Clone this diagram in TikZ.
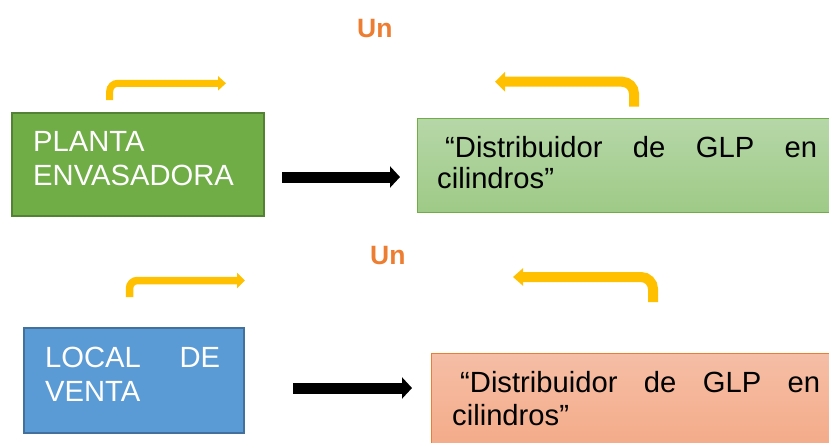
\documentclass[tikz,border=0pt]{standalone}
\usepackage{fontspec}
\setmainfont{Liberation Sans}
\usetikzlibrary{arrows.meta}
\definecolor{ygold}{HTML}{FFC000}
\definecolor{uorange}{HTML}{ED7D31}
\tikzset{
  box/.style={rectangle, inner sep=0pt, anchor=north west},
  darkgreen/.style={box, fill={rgb,255:red,112;green,173;blue,71}, draw={rgb,255:red,84;green,130;blue,53}, line width=1.8pt},
  lightgreen/.style={box, top color={rgb,255:red,182;green,215;blue,168}, bottom color={rgb,255:red,158;green,202;blue,134}, draw={rgb,255:red,112;green,173;blue,71}, line width=1pt},
  bluebox/.style={box, fill={rgb,255:red,91;green,155;blue,213}, draw={rgb,255:red,65;green,113;blue,156}, line width=1.5pt},
  salmon/.style={box, top color={rgb,255:red,245;green,190;blue,166}, bottom color={rgb,255:red,244;green,166;blue,128}, draw=uorange, line width=1pt},
  wtxt/.style={anchor=base west, inner sep=0pt, text=white, font=\fontsize{29.2}{33}\selectfont},
  btxt/.style={anchor=base west, inner sep=0pt, text=black, font=\fontsize{29.2}{33}\selectfont},
  untxt/.style={anchor=base west, inner sep=0pt, text=uorange, font=\fontsize{26.5}{30}\selectfont\bfseries},
  bigarrow/.style={line width=11pt, -{Triangle[width=21pt,length=10pt]}},
  yarrow/.style={draw=ygold, rounded corners=#1},
}
\begin{document}
\begin{tikzpicture}[x=1pt,y=-1pt]
\useasboundingbox (0,0) rectangle (829,442);
\clip (0,0) rectangle (829,442);
% boxes
\node[darkgreen, minimum width=252pt, minimum height=103pt] (pe) at (11,112) {};
\node[lightgreen, minimum width=460pt, minimum height=94pt] (d1) at (417,118) {};
\node[bluebox, minimum width=220pt, minimum height=105pt] (lv) at (23,327) {};
\node[salmon, minimum width=460pt, minimum height=120pt] (d2) at (431,353) {};
% texts
\node[wtxt] (t1a) at (33,151) {PLANTA};
\node[wtxt] (t1b) at (33,185) {ENVASADORA};
\node[btxt] (t2a) at (445,157) {\makebox[372pt][s]{“Distribuidor de GLP en}};
\node[btxt] (t2b) at (437,188.5) {cilindros”};
\node[wtxt] (t3a) at (45,367) {\makebox[175pt][s]{LOCAL DE}};
\node[wtxt] (t3b) at (45,401) {VENTA};
\node[btxt] (t4a) at (460,392) {\makebox[360pt][s]{“Distribuidor de GLP en}};
\node[btxt] (t4b) at (452,425) {cilindros”};
\node[untxt] (un1) at (357,37.3) {Un};
\node[untxt] (un2) at (370,264) {Un};
% black arrows
\coordinate (b1s) at (282,177);
\coordinate (b1e) at (400,177);
\coordinate (b2s) at (293,388);
\coordinate (b2e) at (412,388);
\draw[bigarrow] (b1s) -- (b1e);
\draw[bigarrow] (b2s) -- (b2e);
% yellow bent arrows
\coordinate (ya1) at (109.7,100);
\coordinate (ya2) at (226,83.3);
\coordinate (yb1) at (634,106.7);
\coordinate (yb2) at (495,81.7);
\coordinate (yc1) at (129.5,297);
\coordinate (yc2) at (245,280.5);
\coordinate (yd1) at (653,302);
\coordinate (yd2) at (513,277);
\draw[yarrow=8pt, line width=7pt, -{Triangle[width=14pt,length=8pt]}] (ya1) |- (ya2);
\draw[yarrow=12pt, line width=10pt, -{Triangle[width=19pt,length=10pt]}] (yb1) |- (yb2);
\draw[yarrow=8pt, line width=7.5pt, -{Triangle[width=15pt,length=8pt]}] (yc1) |- (yc2);
\draw[yarrow=12pt, line width=10pt, -{Triangle[width=17pt,length=10pt]}] (yd1) |- (yd2);
\end{tikzpicture}
\end{document}
